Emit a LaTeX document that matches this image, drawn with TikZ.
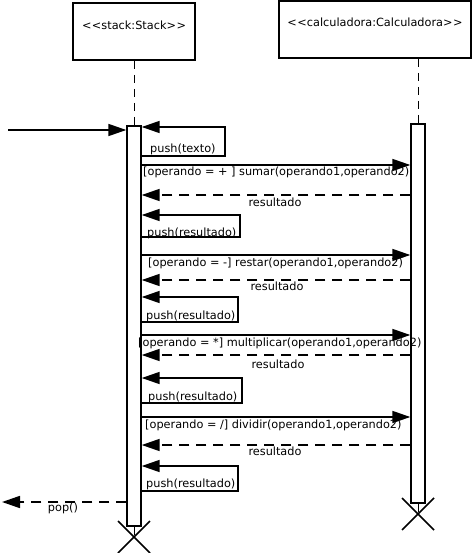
\documentclass[tikz,border=0pt]{standalone}
\usepackage{fontspec}
\setmainfont[Ligatures=NoCommon]{DejaVu Sans}
\usetikzlibrary{arrows.meta}
\begin{document}
\begin{tikzpicture}[x=1pt,y=-1pt,
  font=\fontsize{11.3}{13}\selectfont,
  every node/.style={inner sep=0pt},
  obj/.style={draw, line width=1.6pt, fill=white},
  actbar/.style={draw, line width=1.4pt, fill=white, minimum width=14pt},
  lifeline/.style={line width=0.8pt, dash pattern=on 8pt off 6pt},
  msg/.style={line width=1.7pt, -{Triangle[length=18pt,width=12pt]}},
  ret/.style={msg, dash pattern=on 10pt off 7pt},
  lbl/.style={anchor=west},
  clbl/.style={anchor=center},
  xmark/.style={line width=1.6pt}]
\useasboundingbox (0,0) rectangle (472,553);

% objects
\node[obj, minimum width=122pt, minimum height=57pt] (stackbox) at (134,31.5) {};
\node (stacklbl) at (134,25) {\char`<\kern0.5pt\char`<stack:Stack\char`>\kern0.5pt\char`>};
\node[obj, minimum width=192pt, minimum height=57pt] (calcbox) at (375,29.5) {};
\node (calclbl) at (375,22) {\char`<\kern0.5pt\char`<calculadora:Calculadora\char`>\kern0.5pt\char`>};

% activation bars
\node[actbar, minimum height=400pt] (stackbar) at (134,326) {};
\node[actbar, minimum height=379pt] (calcbar) at (418,313.5) {};

% lifelines
\draw[lifeline] (stackbox.south) -- (stackbar.north);
\draw[lifeline] (calcbox.south -| calcbar.north) -- (calcbar.north);
\coordinate (stackx) at (134,537);
\coordinate (calcx) at (418,514);
\draw[lifeline] (stackbar.south) -- (stackx);
\draw[lifeline] (calcbar.south) -- (calcx);
\draw[xmark] ([shift={(-16,-16)}]stackx) -- ([shift={(16,16)}]stackx);
\draw[xmark] ([shift={(-16,16)}]stackx) -- ([shift={(16,-16)}]stackx);
\draw[xmark] ([shift={(-16,-16)}]calcx) -- ([shift={(16,16)}]calcx);
\draw[xmark] ([shift={(-16,16)}]calcx) -- ([shift={(16,-16)}]calcx);

% incoming
\coordinate (start) at (8,130);
\draw[msg] (start) -- (stackbar.west |- start);

% push(texto)
\draw[msg] (stackbar.east |- 0,156) -- (225,156) -- (225,127) -- (stackbar.east |- 0,127);
\node[lbl] (l0) at (150,149) {push(texto)};

% sumar
\draw[msg] (stackbar.east |- 0,165) -- (calcbar.west |- 0,165);
\node[lbl] (l1) at (143,172) {[operando = + ] sumar(operando1,operando2)};
\draw[ret] (calcbar.west |- 0,195) -- (stackbar.east |- 0,195);
\node[clbl] (r1) at (275,202) {resultado};
\draw[msg] (stackbar.east |- 0,237) -- (240,237) -- (240,215) -- (stackbar.east |- 0,215);
\node[lbl] (p1) at (147,233) {push(resultado)};

% restar
\draw[msg] (stackbar.east |- 0,255) -- (calcbar.west |- 0,255);
\node[lbl] (l2) at (148,263) {[operando = -] restar(operando1,operando2)};
\draw[ret] (calcbar.west |- 0,280) -- (stackbar.east |- 0,280);
\node[clbl] (r2) at (277,286) {resultado};
\draw[msg] (stackbar.east |- 0,322) -- (238,322) -- (238,297) -- (stackbar.east |- 0,297);
\node[lbl] (p2) at (146,316) {push(resultado)};

% multiplicar
\draw[msg] (stackbar.east |- 0,335) -- (calcbar.west |- 0,335);
\node[lbl] (l3) at (138,343) {[operando = *] multiplicar(operando1,operando2)};
\draw[ret] (calcbar.west |- 0,355) -- (stackbar.east |- 0,355);
\node[clbl] (r3) at (278,364) {resultado};
\draw[msg] (stackbar.east |- 0,403) -- (242,403) -- (242,378) -- (stackbar.east |- 0,378);
\node[lbl] (p3) at (148,397) {push(resultado)};

% dividir
\draw[msg] (stackbar.east |- 0,417) -- (calcbar.west |- 0,417);
\node[lbl] (l4) at (145,425) {[operando = /] dividir(operando1,operando2)};
\draw[ret] (calcbar.west |- 0,445) -- (stackbar.east |- 0,445);
\node[clbl] (r4) at (275,451) {resultado};
\draw[msg] (stackbar.east |- 0,491) -- (238,491) -- (238,466) -- (stackbar.east |- 0,466);
\node[lbl] (p4) at (146,484) {push(resultado)};

% pop
\coordinate (popend) at (2,502);
\draw[ret] (stackbar.west |- popend) -- (popend);
\node[clbl] (popl) at (63,508) {pop()};
\end{tikzpicture}
\end{document}
